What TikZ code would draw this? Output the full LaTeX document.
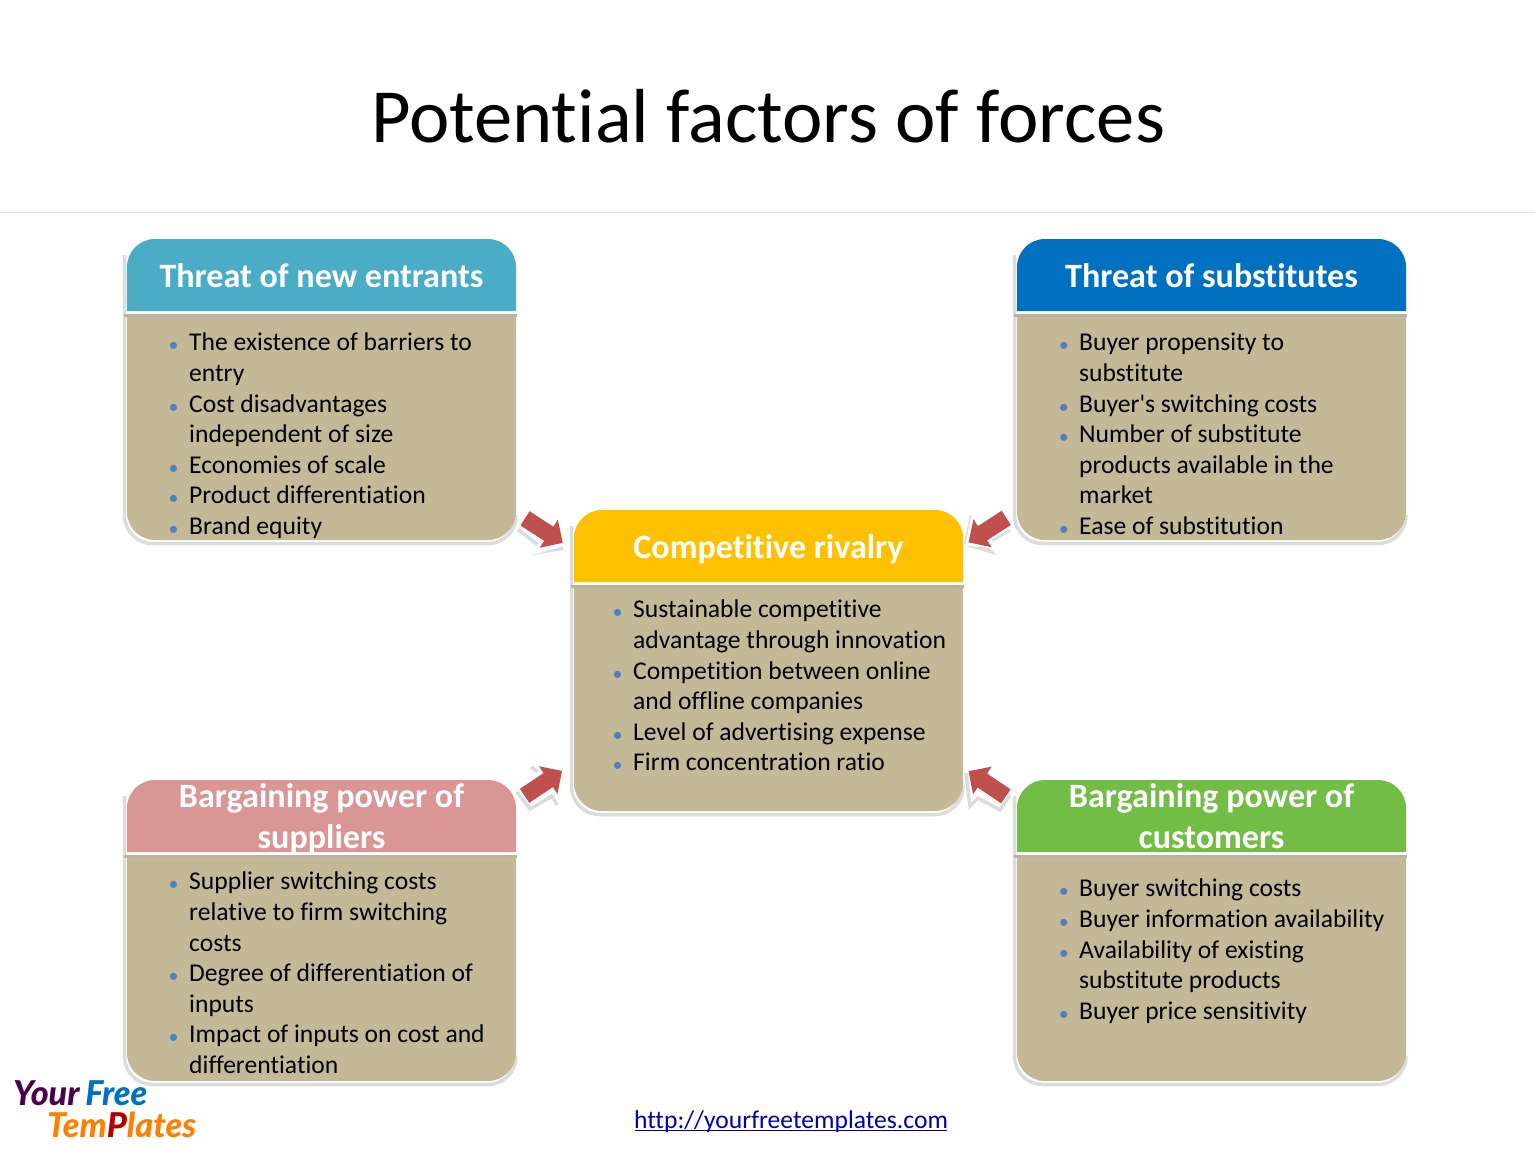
\documentclass[tikz,border=0pt]{standalone}
\usepackage{fontspec}
\usepackage{xcolor}
\usetikzlibrary{shapes.arrows}
\setmainfont{Carlito}[Ligatures={TeXOff,NoCommon}]
\newfontfamily\logofont{Lato Black Italic}
\definecolor{bodytan}{HTML}{C3B996}
\definecolor{bandtan}{HTML}{BAB29C}
\definecolor{rimgray}{HTML}{DCDCDC}
\definecolor{arrowred}{HTML}{C0504D}
\definecolor{dotblue}{HTML}{4F81BD}
\definecolor{headteal}{HTML}{4BACC6}
\definecolor{headblue}{HTML}{0070C0}
\definecolor{headgold}{HTML}{FFC000}
\definecolor{headrose}{HTML}{D99694}
\definecolor{headgreen}{HTML}{72BD45}
\newcommand{\bul}{\leavevmode\llap{\textcolor{dotblue}{\fontsize{20}{20}\selectfont\raisebox{-1pt}{•}}\hspace{10.5pt}}}
\tikzset{
	headtext/.style={text=white,font=\fontsize{34.1}{41}\selectfont\bfseries,align=center,inner sep=0pt,text height=24pt,text depth=8pt},
	bullets/.style={anchor=north west,align=left,inner sep=0pt,font=\fontsize{25.6}{30.6}\selectfont},
	rim/.style={draw=rimgray,line width=3.5pt},
	forcearrow/.style={shape=single arrow,fill=arrowred,anchor=tip,inner xsep=0pt,inner ysep=8.25pt,minimum height=45pt,minimum width=33pt,single arrow head extend=8.25pt,single arrow tip angle=90}
}
\begin{document}
\begin{tikzpicture}[x=1pt,y=-1pt]
	\useasboundingbox (0,0) rectangle (1535,1151);
	\fill[white] (0,0) rectangle (1535,1151);
	\node (title) at (768,116) {\fontsize{76.6}{90}\selectfont Potential factors of forces};
	\draw[color=black!10] (0,212.5) -- (1535,212.5);
	% panels
	\foreach \pname/\bx/\by/\hy/\col/\ttl in {
		pNW/127/239/40.5/headteal/{Threat of new entrants},
		pNE/1017/239/40.5/headblue/{Threat of substitutes},
		pMID/574/510/40/headgold/{Competitive rivalry},
		pSW/127/780/60/headrose/{Bargaining power of\\suppliers},
		pSE/1017/780/60/headgreen/{Bargaining power of\\customers}} {
		\begin{scope}[shift={(\bx,\by)}]
			\draw[rim] (-2.5,16) [rounded corners=28pt] -- (-2.5,304.5) -- (389,304.5) [sharp corners] -- (389,276);
			\fill[bodytan] (0,75) [rounded corners=28pt] -- (0,301) -- (389,301) [sharp corners] -- (389,75) -- cycle;
			\fill[\col] (0,72) [rounded corners=28pt] -- (0,0) -- (389,0) [sharp corners] -- (389,72) -- cycle;
			\fill[bandtan] (-3.5,75) rectangle (390,78);
			\node[headtext] (\pname) at (194.5,\hy) {\ttl};
		\end{scope}
	}
	% lists
	\node[bullets] (listNW) at (189,333) {\bul The existence of barriers to\\entry\\\bul Cost disadvantages\\independent of size\\\bul Economies of scale\\\bul Product differentiation\\\bul Brand equity};
	\node[bullets] (listNE) at (1079,333) {\bul Buyer propensity to\\substitute\\\bul Buyer's switching costs\\\bul Number of substitute\\products available in the\\market\\\bul Ease of substitution};
	\node[bullets] (listMID) at (633,600) {\bul Sustainable competitive\\advantage through innovation\\\bul Competition between online\\and offline companies\\\bul Level of advertising expense\\\bul Firm concentration ratio};
	\node[bullets] (listSW) at (189,872) {\bul Supplier switching costs\\relative to firm switching\\costs\\\bul Degree of differentiation of\\inputs\\\bul Impact of inputs on cost and\\differentiation};
	\node[bullets] (listSE) at (1079,879) {\bul Buyer switching costs\\\bul Buyer information availability\\\bul Availability of existing\\substitute products\\\bul Buyer price sensitivity};
	% arrows
	\foreach \aname/\ax/\ay/\rot in {aNW/563/543/-33, aNE/968.3/542.5/213, aSW/562.3/770.7/33.7, aSE/968.3/771/146} {
		\node[forcearrow,rotate=\rot] (\aname) at (\ax,\ay) {};
	}
	% arrow shadows
	\draw[rim] (518,529.5) -- (537.5,544.5);
	\fill[rimgray] (530.5,555.5) -- (563,546.5) -- (563.5,550) -- cycle;
	\draw[rim,line width=2.5pt] (1010.5,530) -- (992,541);
	\fill[rimgray] (964,545.5) -- (996.7,555) -- (990,548) -- cycle;
	\draw[rimgray,line width=1.5pt] (970.7,515) -- (964.5,545);
	\draw[rim] (517,792) -- (530,809) -- (552,796) -- (557,805);
	\draw[rim] (531,767) -- (538,772);
	\draw[rim] (966,773) -- (970,806) -- (978,798) -- (1000,810) -- (1010,795);
	% footer
	\node (link) at (791,1122) {\fontsize{25.6}{30}\selectfont\textcolor{blue!70!black}{http://yourfreetemplates.com}};
	\draw[blue!70!black,line width=1pt] (635,1130) -- (947,1130);
	\node (logo) [anchor=north west,inner sep=0pt,align=left,font=\logofont\fontsize{34.2}{32}\selectfont] at (13,1080) {\textcolor{violet!60!black}{Your}\,\textcolor{headblue}{Free}\\\hspace{34pt}\textcolor{orange}{Tem}\textcolor{red!70!black}{P}\textcolor{orange}{lates}};
\end{tikzpicture}
\end{document}
